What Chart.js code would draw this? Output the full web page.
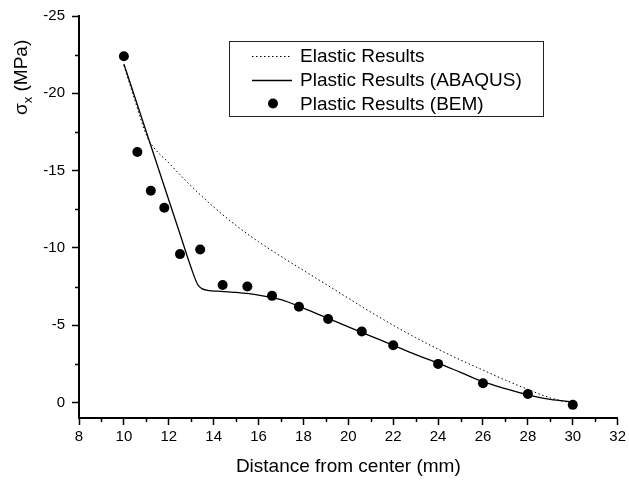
<!DOCTYPE html>
<html>
<head>
<meta charset="utf-8">
<script src="https://cdn.jsdelivr.net/npm/chart.js@4/dist/chart.umd.min.js"></script>
<style>
    html, body { margin: 0; padding: 0; background: #fff; }
    #wrap { width: 629px; height: 480px; }
</style>
</head>
<body>
<div id="wrap"><canvas id="stressChart"></canvas></div>
<script>
// Data
const elasticX = [10, 10.5, 11, 11.2, 12, 13, 14, 15, 16, 17, 18, 19, 20, 21, 22, 23, 24, 25, 26, 27, 28, 29, 30];
const elasticY = [-21.8, -19.5, -17.3, -16.75, -15.5, -14.0, -12.65, -11.45, -10.4, -9.45, -8.55, -7.65, -6.75, -5.85, -5.0, -4.2, -3.45, -2.75, -2.1, -1.45, -0.85, -0.3, 0.05];

const abaqusX = [10, 10.5, 11, 11.5, 12, 12.5, 13, 13.3, 13.5, 13.8, 14.2, 15, 16, 17, 18, 19, 20, 21, 22, 23, 24, 25, 26, 27, 28, 29, 30];
const abaqusY = [-21.9, -19.7, -17.5, -15.3, -13.1, -10.9, -8.7, -7.6, -7.35, -7.24, -7.2, -7.12, -6.95, -6.65, -6.1, -5.5, -4.9, -4.3, -3.7, -3.1, -2.55, -1.95, -1.35, -0.9, -0.5, -0.2, -0.05];

const bemX = [10, 10.6, 11.2, 11.8, 12.5, 13.4, 14.4, 15.5, 16.6, 17.8, 19.1, 20.6, 22, 24, 26, 28, 30];
const bemY = [-22.4, -16.2, -13.7, -12.6, -9.6, -9.9, -7.6, -7.5, -6.9, -6.2, -5.4, -4.6, -3.7, -2.5, -1.25, -0.55, 0.15];

const xTicks = [8, 9, 10, 11, 12, 13, 14, 15, 16, 17, 18, 19, 20, 21, 22, 23, 24, 25, 26, 27, 28, 29, 30, 31, 32];
const yTicks = [-25, -22.5, -20, -17.5, -15, -12.5, -10, -7.5, -5, -2.5, 0];

const seriesNames = ["Elastic Results", "Plastic Results (ABAQUS)", "Plastic Results (BEM)"];

const FONT = "'Liberation Sans', Arial, sans-serif";

function pairs(xs, ys) {
    return xs.map((x, i) => ({ x: x, y: ys[i] }));
}

const isMajorX = (v) => v % 2 === 0;
const isMajorY = (v) => v % 5 === 0;

// axis titles, minor ticks and the boxed legend
const decorPlugin = {
    id: "decor",
    afterDraw(chart) {
        const ctx = chart.ctx;
        const xs = chart.scales.x;
        const ys = chart.scales.y;
        const area = chart.chartArea;

        ctx.save();
        ctx.strokeStyle = "#000";
        ctx.lineWidth = 1.5;
        // minor ticks
        xTicks.filter((v) => !isMajorX(v)).forEach((v) => {
            const px = Math.round(xs.getPixelForValue(v)) + 0.5;
            ctx.beginPath();
            ctx.moveTo(px, area.bottom);
            ctx.lineTo(px, area.bottom + 4);
            ctx.stroke();
        });
        yTicks.filter((v) => !isMajorY(v)).forEach((v) => {
            const py = Math.round(ys.getPixelForValue(v)) + 0.5;
            ctx.beginPath();
            ctx.moveTo(area.left - 4, py);
            ctx.lineTo(area.left, py);
            ctx.stroke();
        });

        ctx.fillStyle = "#000";
        // x title
        ctx.font = "19px " + FONT;
        ctx.textAlign = "center";
        ctx.textBaseline = "middle";
        ctx.fillText("Distance from center (mm)", (area.left + area.right) / 2, 467);

        // y title with subscript
        ctx.save();
        ctx.translate(22, 115);
        ctx.rotate(-Math.PI / 2);
        ctx.textAlign = "left";
        ctx.textBaseline = "middle";
        ctx.font = "19px " + FONT;
        ctx.fillText("σ", 0, 0);
        let w = ctx.measureText("σ").width;
        ctx.font = "13px " + FONT;
        ctx.fillText("x", w, 6);
        w += ctx.measureText("x").width;
        ctx.font = "19px " + FONT;
        ctx.fillText(" (MPa)", w, 0);
        ctx.restore();

        // legend box
        ctx.lineWidth = 1;
        ctx.strokeStyle = "#222";
        ctx.strokeRect(229.5, 41.5, 314, 75);
        const rows = [56, 80, 103.5];
        ctx.font = "19px " + FONT;
        ctx.textAlign = "left";
        ctx.textBaseline = "middle";
        chart.data.datasets.forEach((ds, i) => {
            const y = rows[i];
            if (ds.showLine) {
                ctx.beginPath();
                ctx.setLineDash(ds.borderDash || []);
                ctx.lineWidth = ds.borderWidth;
                ctx.strokeStyle = ds.borderColor;
                ctx.moveTo(252, y + 0.5);
                ctx.lineTo(292, y + 0.5);
                ctx.stroke();
                ctx.setLineDash([]);
            } else {
                ctx.beginPath();
                ctx.fillStyle = ds.pointBackgroundColor;
                ctx.arc(273, y, ds.pointRadius, 0, Math.PI * 2);
                ctx.fill();
            }
            ctx.fillStyle = "#000";
            ctx.fillText(ds.label, 300, y + 1);
        });
        ctx.restore();
    },
};

const ctx = document.getElementById("stressChart").getContext("2d");

new Chart(ctx, {
    type: "scatter",
    data: {
        datasets: [
            {
                label: seriesNames[0],
                data: pairs(elasticX, elasticY),
                showLine: true,
                borderColor: "#000",
                borderWidth: 1,
                borderDash: [1.5, 2.5],
                pointRadius: 0,
                cubicInterpolationMode: "monotone",
            },
            {
                label: seriesNames[1],
                data: pairs(abaqusX, abaqusY),
                showLine: true,
                borderColor: "#000",
                borderWidth: 1.3,
                pointRadius: 0,
                cubicInterpolationMode: "monotone",
            },
            {
                label: seriesNames[2],
                data: pairs(bemX, bemY),
                showLine: false,
                pointRadius: 5,
                pointBackgroundColor: "#000",
                pointBorderColor: "#000",
                pointBorderWidth: 0,
            },
        ],
    },
    options: {
        responsive: true,
        maintainAspectRatio: false,
        animation: false,
        layout: { padding: { left: 0, right: 8, top: 15, bottom: 0 } },
        scales: {
            x: {
                type: "linear",
                min: 8,
                max: 32,
                afterBuildTicks: (scale) => {
                    scale.ticks = xTicks.map((v) => ({ value: v }));
                },
                afterFit: (scale) => {
                    scale.height = 62;
                },
                ticks: {
                    color: "#000",
                    padding: 3,
                    maxRotation: 0,
                    autoSkip: false,
                    font: { family: FONT, size: 15 },
                    callback: (v) => (isMajorX(v) ? String(v) : ""),
                },
                grid: {
                    drawOnChartArea: false,
                    drawTicks: true,
                    tickLength: 7,
                    tickWidth: 1.5,
                    tickColor: (c) => (c.tick && isMajorX(c.tick.value) ? "#000" : "rgba(0,0,0,0)"),
                },
                border: { display: true, color: "#000", width: 2 },
            },
            y: {
                type: "linear",
                min: -25,
                max: 1,
                reverse: true,
                afterBuildTicks: (scale) => {
                    scale.ticks = yTicks.map((v) => ({ value: v }));
                },
                afterFit: (scale) => {
                    scale.width = 79;
                },
                ticks: {
                    color: "#000",
                    padding: 7,
                    autoSkip: false,
                    font: { family: FONT, size: 15 },
                    callback: (v) => (isMajorY(v) ? String(v) : ""),
                },
                grid: {
                    drawOnChartArea: false,
                    drawTicks: true,
                    tickLength: 7,
                    tickWidth: 1.5,
                    tickColor: (c) => (c.tick && isMajorY(c.tick.value) ? "#000" : "rgba(0,0,0,0)"),
                },
                border: { display: true, color: "#000", width: 2 },
            },
        },
        plugins: {
            legend: { display: false },
            tooltip: { enabled: false },
        },
    },
    plugins: [decorPlugin],
});
</script>
</body>
</html>
